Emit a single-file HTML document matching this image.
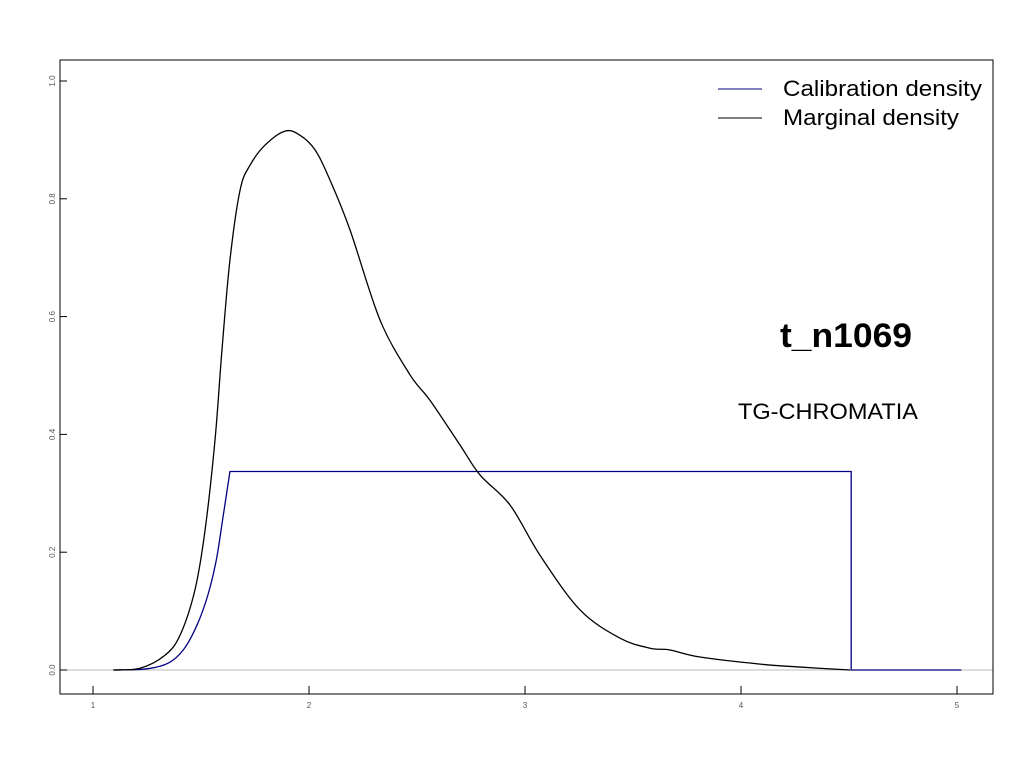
<!DOCTYPE html>
<html><head><meta charset="utf-8"><style>
body{margin:0;background:#fff}
svg{display:block;font-family:"Liberation Sans",Arial,sans-serif}
</style></head><body>
<svg id="chart" width="1024" height="768" viewBox="0 0 1024 768">
<rect x="0" y="0" width="1024" height="768" fill="#fff"/>
<g id="marks"></g>
<rect x="60" y="60" width="933" height="634" fill="none" stroke="#000" stroke-width="1"/>
<g>
<line x1="718" y1="89" x2="762" y2="89" stroke="#000080"/>
<text x="783" y="96" font-size="22" textLength="199" lengthAdjust="spacingAndGlyphs">Calibration density</text>
<line x1="718" y1="118" x2="762" y2="118" stroke="#000"/>
<text x="783" y="125" font-size="22" textLength="176" lengthAdjust="spacingAndGlyphs">Marginal density</text>
</g>
<text x="780" y="347" font-size="34" font-weight="bold" textLength="132" lengthAdjust="spacingAndGlyphs">t_n1069</text>
<text x="738" y="419" font-size="22" textLength="180" lengthAdjust="spacingAndGlyphs">TG-CHROMATIA</text>
</svg>
<script>
const xTicks=[1,2,3,4,5];
const yTicks=[0.0,0.2,0.4,0.6,0.8,1.0];
const margX=[1.093,1.218,1.333,1.403,1.472,1.519,1.565,1.597,1.634,1.681,1.727,1.796,1.889,1.958,2.028,2.097,2.190,2.329,2.468,2.560,2.699,2.792,2.931,3.069,3.255,3.440,3.579,3.671,3.810,4.088,4.273,4.505];
const margY=[0,0.003,0.025,0.059,0.136,0.238,0.391,0.543,0.696,0.815,0.857,0.891,0.915,0.908,0.883,0.832,0.747,0.594,0.501,0.458,0.382,0.331,0.280,0.195,0.102,0.054,0.037,0.034,0.022,0.010,0.005,0.0];
const calRiseX=[1.1,1.25,1.35,1.42,1.48,1.53,1.57,1.60,1.634];
const calRiseY=[0,0.002,0.012,0.035,0.075,0.125,0.185,0.255,0.337];
const calFlatX=[1.634,4.51,4.51,5.02];
const calFlatY=[0.337,0.337,0,0];
const sx=v=>93+(v-1)*216;
const sy=v=>670-v*589;
const NS='http://www.w3.org/2000/svg';
const svg=document.getElementById('chart');
const marks=document.getElementById('marks');
function mk(t,a,p){const e=document.createElementNS(NS,t);for(const k in a)e.setAttribute(k,a[k]);(p||svg).appendChild(e);return e;}
function spline(xs,ys){
 const pts=xs.map((x,i)=>[sx(x),sy(ys[i])]);
 let d='M'+pts[0][0]+','+pts[0][1];
 for(let i=0;i<pts.length-1;i++){
  const p0=pts[i-1]||pts[i],p1=pts[i],p2=pts[i+1],p3=pts[i+2]||p2;
  d+=` C${p1[0]+(p2[0]-p0[0])/6},${p1[1]+(p2[1]-p0[1])/6} ${p2[0]-(p3[0]-p1[0])/6},${p2[1]-(p3[1]-p1[1])/6} ${p2[0]},${p2[1]}`;
 }
 return d;
}
const zl=mk('line',{x1:60,x2:993,y1:sy(0),y2:sy(0),stroke:'#bbb'},marks);


xTicks.forEach(v=>{
 const l=mk('line',{x1:sx(v),x2:sx(v),y1:694,y2:686,stroke:'#000'});
 
 
 const t=mk('text',{x:sx(v),y:708,'font-size':8,fill:'#555','text-anchor':'middle'});
 t.textContent=v;
 
 
});
yTicks.forEach(v=>{
 const l=mk('line',{x1:60,x2:67,y1:sy(v),y2:sy(v),stroke:'#000'});
 
 
 const t=mk('text',{x:0,y:0,'font-size':8,fill:'#555','text-anchor':'middle',transform:`translate(55,${sy(v)}) rotate(-90)`});
 t.textContent=v.toFixed(1);
 
 
});
const calD=spline(calRiseX,calRiseY)+calFlatX.slice(1).map((x,i)=>' L'+sx(x)+','+sy(calFlatY[i+1])).join('');
const cal=mk('path',{d:calD,fill:'none',stroke:'#000080','stroke-width':1.3},marks);


const mar=mk('path',{d:spline(margX,margY),fill:'none',stroke:'#000','stroke-width':1.3},marks);


</script>
</body></html>
